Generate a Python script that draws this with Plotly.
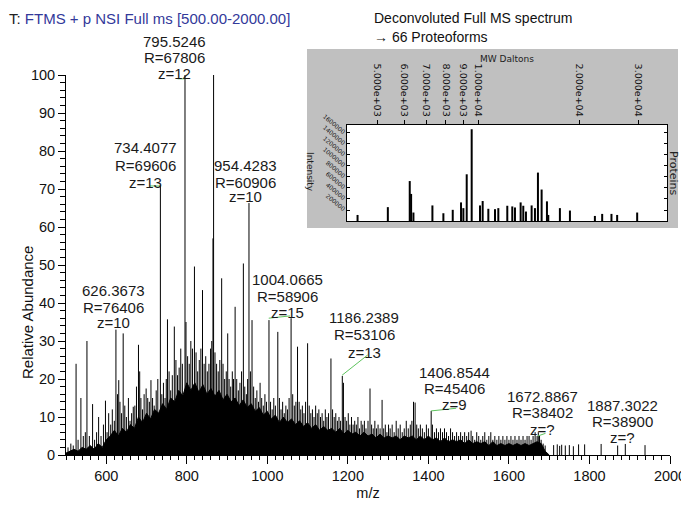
import plotly.graph_objects as go

# ---------------- main spectrum data ----------------
# dense unresolved background (solid black envelope), m/z vs relative abundance
env_mz = [500, 510, 520, 530, 540, 550, 560, 570, 580, 590, 600, 610, 620, 630, 640, 650,
          660, 670, 680, 690, 700, 710, 720, 730, 740, 750, 760, 770, 780, 790, 800, 810,
          820, 830, 840, 850, 860, 870, 880, 890, 900, 910, 920, 930, 940, 950, 960, 970,
          980, 990, 1000, 1010, 1020, 1030, 1040, 1050, 1060, 1070, 1080, 1090, 1100, 1110,
          1120, 1130, 1140, 1150, 1160, 1170, 1180, 1190, 1200, 1210, 1220, 1230, 1240, 1250,
          1260, 1270, 1280, 1290, 1300, 1310, 1320, 1330, 1340, 1350, 1360, 1370, 1380, 1390,
          1400, 1410, 1420, 1430, 1440, 1450, 1460, 1470, 1480, 1490, 1500, 1510, 1520, 1530,
          1540, 1550, 1560, 1570, 1580, 1590, 1600, 1610, 1620, 1630, 1640, 1650, 1660, 1670,
          1680, 1690, 1700]
env_int = [0.5, 1, 1.5, 1, 2, 1.5, 2.5, 1.5, 3, 2, 4, 5, 6.5, 5, 7, 6,
           8, 7, 10, 8.5, 11, 9.5, 12, 11, 13.5, 12, 15, 14, 17, 15.5, 19, 17,
           19, 16.5, 18.5, 16, 17.5, 15.5, 17, 14.5, 16, 14, 15, 13, 14.5, 12.5, 13.5, 11.5,
           12.5, 10.5, 11.5, 9.5, 10.5, 8.5, 10, 8.5, 9.5, 8, 9, 7.5, 8.5, 7,
           8, 6.5, 7.5, 6.5, 7, 6, 7, 5.5, 6.5, 5.5, 6, 5, 6, 5,
           5.5, 4.5, 5.5, 4.5, 5, 4.5, 5, 4, 5, 4.5, 5, 4, 5, 4,
           5, 4, 4.5, 3.5, 4.5, 3.5, 4, 3.5, 4, 3, 4, 3, 3.5, 3,
           3.5, 2.5, 3.5, 2.5, 3, 2.5, 3, 2.5, 3, 2.5, 3, 2.5, 3, 3.5,
           3, 1, 0]

# resolved peaks (centroid sticks)
peak_mz = [505, 512, 518, 525, 530, 537, 543, 548, 552, 558,
           566, 571, 576, 581, 587, 593, 598, 602, 606, 611,
           615, 620, 624, 628, 631, 634, 638, 642, 646, 650,
           655, 659, 663, 667, 671, 675, 680, 683, 686, 690,
           694, 699, 703, 707, 711, 715, 719, 724, 728, 734.4,
           738, 742, 746, 749, 752, 756, 760, 764, 769, 773,
           777, 781, 785, 789, 795.5, 798, 802, 806, 810, 814,
           819, 823, 827, 831, 835, 839, 843, 847, 851, 855,
           859, 862, 865, 866.5, 870, 874, 878, 882, 886.6, 890,
           894, 898, 901.6, 905, 909, 913, 916, 920, 924, 928,
           932, 936, 940.5, 944, 948, 951, 954.4, 958, 962, 966,
           970, 974, 978, 982, 986, 990, 994, 998, 1004.1, 1008,
           1012, 1016, 1020, 1026, 1030, 1034, 1038, 1042, 1046, 1050,
           1054, 1059, 1063, 1067, 1071, 1075, 1079, 1083, 1087, 1091,
           1095, 1100, 1104, 1108, 1112, 1116, 1120, 1124, 1128, 1132,
           1136, 1140, 1144, 1148, 1152, 1158, 1162, 1166, 1170, 1174,
           1178, 1182, 1186.2, 1189, 1193, 1197, 1201, 1205, 1209, 1213,
           1217, 1221, 1225, 1229, 1233, 1237, 1241, 1245, 1250, 1255,
           1259, 1263, 1267, 1271, 1275, 1280, 1285, 1289, 1293, 1297,
           1301, 1305, 1310, 1315, 1320, 1325, 1330, 1335, 1340, 1345,
           1350, 1355, 1359, 1363, 1367, 1371, 1375, 1380, 1385, 1390,
           1395, 1400, 1406.9, 1410, 1415, 1420, 1425, 1430, 1435, 1440,
           1445, 1450, 1455, 1460, 1465, 1470, 1475, 1480, 1485, 1490,
           1495, 1500, 1506, 1510, 1515, 1520, 1525, 1530, 1535, 1540,
           1545, 1550, 1555, 1560, 1565, 1570, 1575, 1580, 1585, 1590,
           1595, 1600, 1605, 1610, 1615, 1620, 1625, 1630, 1635, 1640,
           1645, 1650, 1655, 1660, 1665, 1670, 1672.9, 1676, 1680, 1685,
           1690, 1711, 1720, 1726, 1731, 1740, 1750, 1760, 1773, 1788,
           1829, 1870, 1889, 1938]
peak_int = [2, 3, 2.5, 24, 4, 15, 5, 6, 30, 5,
            13.4, 4, 6, 10, 5, 8, 14.3, 6, 11, 8,
            12, 9, 33, 16, 19.7, 14, 11, 32, 13, 10,
            15, 9, 11, 12.7, 13, 18, 29, 22, 15, 12,
            16, 17.5, 15, 14, 19.7, 15, 13, 17, 20, 71,
            16, 19, 15, 20, 35.7, 22, 17, 21, 33.8, 25,
            21, 23, 28, 24, 100, 35, 26, 24, 30, 28,
            49.6, 27, 22, 25, 28, 43.4, 24, 26, 22, 24,
            28, 30, 57, 100, 27, 24, 22, 25, 46.5, 24,
            20, 22, 32, 20, 18, 22, 20, 39, 20, 17,
            19, 22, 50.4, 18, 16, 20, 66.3, 22, 35.5, 18,
            15, 17, 14, 19, 15, 13, 16, 14, 35.5, 14,
            12, 15, 13, 32.4, 15, 12, 14, 11, 13, 12,
            15, 36, 16, 13, 14, 28.5, 14, 12, 13, 11,
            14, 29.4, 13, 11, 12, 10, 13, 11, 12, 10,
            11, 9, 12, 10, 11, 25.4, 12, 10, 11, 9,
            10, 9, 20.8, 19, 10, 9, 11, 8, 10, 8,
            9, 8, 10, 7, 9, 8, 9, 7, 9, 17.5,
            8, 7, 9, 7, 8, 7, 14.5, 7, 8, 6,
            8, 7, 8, 6, 9, 7, 8, 6, 7, 9,
            7, 8, 9, 14, 13.8, 8, 7, 8, 7, 6,
            8, 7, 11.6, 8, 6, 7, 6, 7, 6, 7,
            6, 5, 7, 6, 5, 6, 5, 6, 5, 6,
            5, 6, 6.4, 5, 4, 6, 5, 4, 5, 6,
            4, 5, 6, 4, 5, 4, 5, 4, 5, 4,
            5, 4, 5, 4, 5, 4, 5, 4, 5, 4,
            5, 5, 4, 5, 6, 5, 6, 5, 4, 3,
            2.5, 2.6, 2.8, 2.4, 2.7, 2.5, 2.6, 2.3, 2.8, 2.8,
            2.9, 2.5, 2.9, 2.6]

# annotated peaks: label lines, label anchor (m/z, abundance), leader line (from peak to label)
label_text = [["795.5246", "R=67806", "z=12"],
              ["734.4077", "R=69606", "z=13"],
              ["954.4283", "R=60906", "z=10"],
              ["626.3673", "R=76406", "z=10"],
              ["1004.0665", "R=58906", "z=15"],
              ["1186.2389", "R=53106", "z=13"],
              ["1406.8544", "R=45406", "z=9"],
              ["1672.8867", "R=38402", "z=?"],
              ["1887.3022", "R=38900", "z=?"]]
label_mz = [769.5, 697.5, 945.7, 618, 1050, 1241, 1464.7, 1683, 1882]
label_y = [[108.7, 104.5, 100.3], [80.8, 76.1, 71.8], [76.1, 71.8, 67.9],
           [43.4, 38.9, 35.0], [46.1, 41.8, 37.6], [36.1, 31.6, 27.1],
           [21.6, 17.6, 13.2], [15.3, 11.1, 6.6], [12.9, 8.9, 4.7]]
leader_x = [[777, 794], [708.6, 733.4], [1003.5, 1056.5], [1185.7, 1249],
            [1406.8, 1469], [1671.7, 1690.8]]
leader_y = [[99, 99], [70.8, 70.8], [36, 36.6], [21, 26.3], [11.6, 12.3], [5, 5.7]]

x_range = [500, 2000]
y_range = [0, 100]
x_major = [600, 800, 1000, 1200, 1400, 1600, 1800, 2000]
y_major = [0, 10, 20, 30, 40, 50, 60, 70, 80, 90, 100]

# ---------------- inset: deconvoluted spectrum ----------------
inset_mw = [4360, 5369, 6241, 6300, 6401, 7293, 7864, 8386, 8878, 9022,
            9231, 9552, 10115, 10301, 10710, 11213, 11471, 12200, 12627, 12861,
            13372, 13617, 13870, 14421, 14754, 15060, 15446, 16022, 16168, 17514,
            18763, 22274, 23418, 24961, 25955, 29783]
inset_int = [110000, 252000, 726000, 492000, 154000, 283000, 141000, 203000, 338000, 234000,
             849000, 1668000, 283000, 363000, 222000, 215000, 234000, 277000, 265000, 246000,
             338000, 277000, 172000, 283000, 234000, 880000, 572000, 357000, 110000, 234000,
             190000, 92000, 129000, 129000, 110000, 154000]
inset_xticks = [5000, 6000, 7000, 8000, 9000, 10000, 20000, 30000]
inset_xlabels = ["5.000e+03", "6.000e+03", "7.000e+03", "8.000e+03", "9.000e+03",
                 "1.000e+04", "2.000e+04", "3.000e+04"]
inset_yticks = [200000, 400000, 600000, 800000, 1000000, 1200000, 1400000, 1600000]
inset_ylabels = ["200000", "400000", "600000", "800000", "1000000", "1200000",
                 "1400000", "1600000"]


def sticks(xs, ys):
    sx, sy = [], []
    for a, b in zip(xs, ys):
        sx += [a, a, None]
        sy += [0, b, None]
    return sx, sy


fig = go.Figure()

fig.add_trace(go.Scatter(x=env_mz, y=env_int, mode="lines", fill="tozeroy",
                         line=dict(color="black", width=1), fillcolor="black",
                         hoverinfo="skip", showlegend=False))
sx, sy = sticks(peak_mz, peak_int)
fig.add_trace(go.Scatter(x=sx, y=sy, mode="lines", line=dict(color="black", width=1),
                         showlegend=False))
for lx, ly in zip(leader_x, leader_y):
    fig.add_trace(go.Scatter(x=lx, y=ly, mode="lines", line=dict(color="#5ec45e", width=1),
                             showlegend=False, cliponaxis=False))

ix, iy = sticks(inset_mw, inset_int)
fig.add_trace(go.Scatter(x=ix, y=iy, mode="lines", line=dict(color="black", width=2),
                         xaxis="x2", yaxis="y2", showlegend=False))

ML, MR, MT, MB = 66, 11, 75, 51
W, H = 681, 506
PW, PH = W - ML - MR, H - MT - MB


def px(x):
    return (x - ML) / PW


def py(y):
    return (H - MB - y) / PH


def mz_paper(v):
    return (v - x_range[0]) / (x_range[1] - x_range[0])


def ab_paper(v):
    return (v - y_range[0]) / (y_range[1] - y_range[0])


annotations = []
for lines, mz, ys in zip(label_text, label_mz, label_y):
    for t, yv in zip(lines, ys):
        annotations.append(dict(x=mz_paper(mz), y=ab_paper(yv), xref="paper", yref="paper",
                                text=t, showarrow=False, xanchor="center", yanchor="middle",
                                font=dict(size=15, color="#1a1a1a")))

annotations += [
    dict(x=px(7), y=py(18), xref="paper", yref="paper", xanchor="left", yanchor="middle",
         showarrow=False, font=dict(size=15, color="#222"),
         text="T: <span style='color:#33399a'>FTMS + p NSI Full ms [500.00-2000.00]</span>"),
    dict(x=px(372), y=py(18), xref="paper", yref="paper", xanchor="left", yanchor="middle",
         showarrow=False, font=dict(size=14, color="#111"), text="Deconvoluted Full MS spectrum"),
    dict(x=px(372), y=py(37), xref="paper", yref="paper", xanchor="left", yanchor="middle",
         showarrow=False, font=dict(size=14, color="#111"), text="→ 66 Proteoforms"),
    dict(x=px(27), y=py(313), xref="paper", yref="paper", xanchor="center", yanchor="middle",
         showarrow=False, textangle=-90, font=dict(size=15, color="#111"),
         text="Relative Abundance"),
    dict(x=px(310), y=py(172), xref="paper", yref="paper", xanchor="center", yanchor="middle",
         showarrow=False, textangle=90, font=dict(size=9, color="#222", family="DejaVu Sans"),
         text="Intensity"),
    dict(x=px(674), y=py(173), xref="paper", yref="paper", xanchor="center", yanchor="middle",
         showarrow=False, textangle=90, font=dict(size=11, color="#222", family="DejaVu Sans"),
         text="Proteins"),
    dict(x=px(507), y=py(59), xref="paper", yref="paper", xanchor="center", yanchor="middle",
         showarrow=False, font=dict(size=9, color="#222", family="DejaVu Sans"),
         text="MW Daltons"),
]

shapes = [
    dict(type="rect", xref="paper", yref="paper", x0=px(307), x1=px(678), y0=py(228), y1=py(49),
         fillcolor="#c0c0c0", line=dict(width=0), layer="below"),
    dict(type="rect", xref="paper", yref="paper", x0=px(347), x1=px(667), y0=py(221), y1=py(125),
         fillcolor="white", line=dict(width=0), layer="below"),
]

fig.update_layout(
    width=W, height=H,
    margin=dict(l=ML, r=MR, t=MT, b=MB, autoexpand=False),
    paper_bgcolor="white", plot_bgcolor="white",
    font=dict(family="Liberation Sans, Arial, sans-serif", size=14.5, color="#111"),
    showlegend=False,
    annotations=annotations,
    shapes=shapes,
    xaxis=dict(range=x_range, tickmode="array", tickvals=x_major,
               showline=True, linecolor="black", linewidth=1, mirror=False,
               ticks="outside", ticklen=8, tickcolor="black", ticklabeloverflow="allow",
               minor=dict(dtick=20, tick0=500, ticks="outside", ticklen=4, tickcolor="black",
                          showgrid=False),
               showgrid=False, zeroline=False, tickfont=dict(size=14.5),
               title=dict(text="m/z", font=dict(size=14.5), standoff=4)),
    yaxis=dict(range=y_range, tickmode="array", tickvals=y_major,
               showline=True, linecolor="black", linewidth=1,
               ticks="outside", ticklen=7, tickcolor="black",
               minor=dict(dtick=2, tick0=0, ticks="outside", ticklen=5, tickcolor="black",
                          showgrid=False),
               showgrid=False, zeroline=False, tickfont=dict(size=14.5)),
    xaxis2=dict(type="log", range=[3.608, 4.563], domain=[px(347), px(667)], anchor="y2",
                side="top", tickmode="array", tickvals=inset_xticks, ticktext=inset_xlabels,
                tickangle=90, tickfont=dict(size=9.5, family="DejaVu Sans", color="#111"),
                ticks="outside", ticklen=4, tickcolor="black",
                showline=True, mirror=True, linecolor="black", linewidth=1,
                showgrid=False, zeroline=False),
    yaxis2=dict(range=[0, 1745000], domain=[py(221), py(125)], anchor="x2",
                tickmode="array", tickvals=inset_yticks, ticktext=inset_ylabels,
                tickangle=40, tickfont=dict(size=6, family="DejaVu Sans", color="#222"),
                ticks="inside", ticklen=3, tickcolor="black",
                showline=True, mirror="ticks", linecolor="black", linewidth=1,
                showgrid=False, zeroline=False),
)

fig.write_html("out.html", config={"displayModeBar": False},
               post_script="document.body.style.margin='0';")
